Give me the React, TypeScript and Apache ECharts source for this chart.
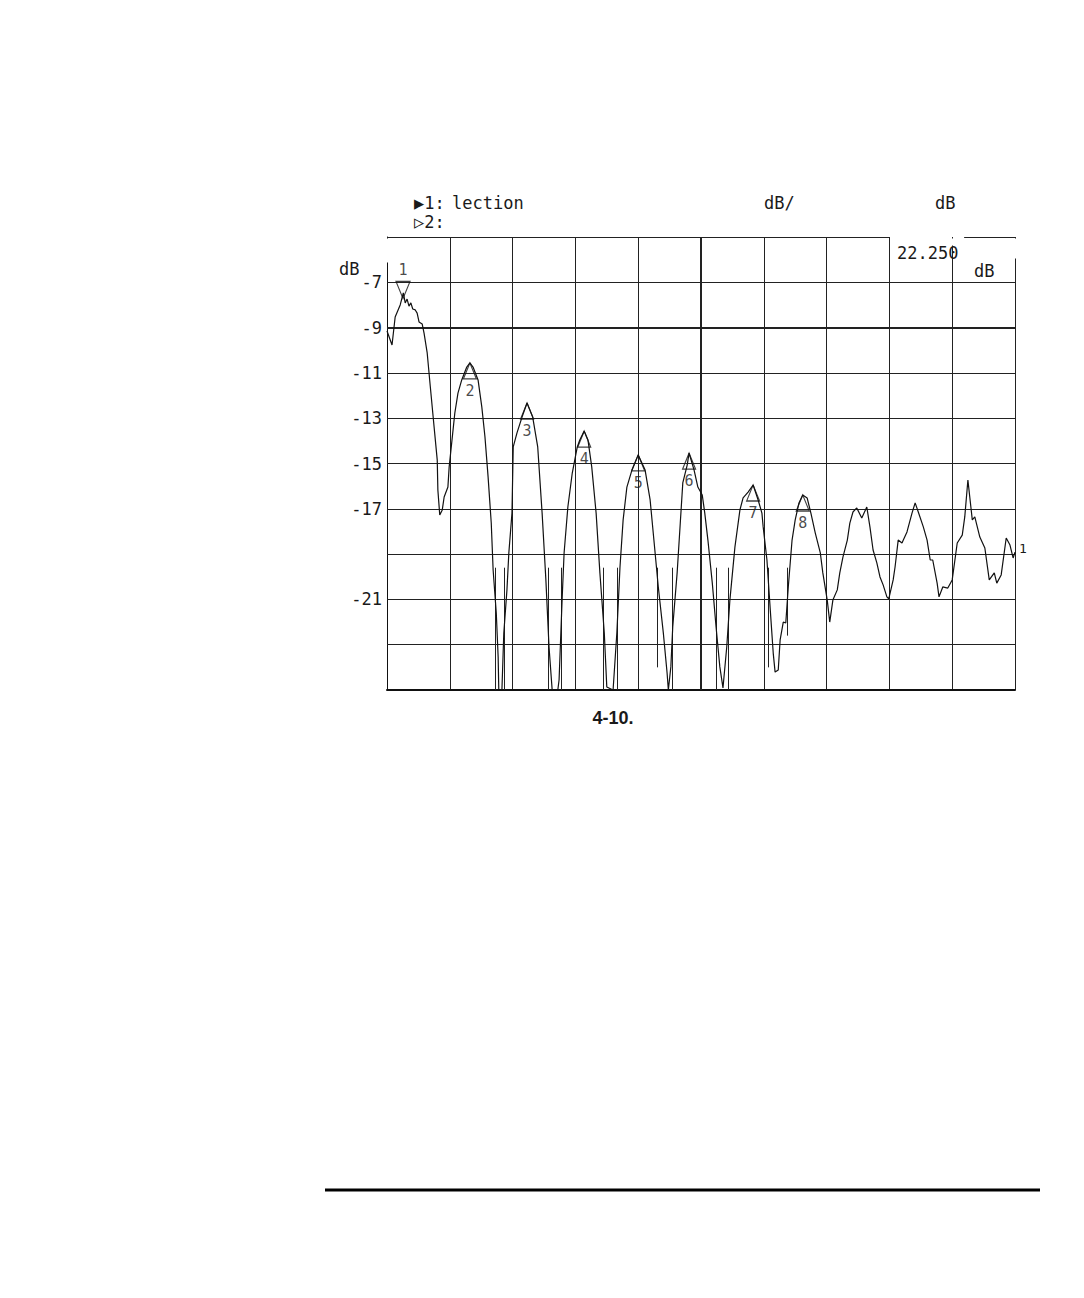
import React, { useEffect, useRef } from 'react';
import * as echarts from 'echarts';

// Trace: [x position (0..100 across the 10 divisions), dB]
const TRACE: [number, number][] = [
  [0, -9.15], [0.8, -9.77], [1.3, -8.53], [2.1, -8.0], [2.6, -7.47], [2.9, -7.91], [3.2, -7.74], [3.5, -8.05],
  [3.8, -7.91], [4.1, -8.18], [4.5, -8.22], [4.8, -8.36], [5.1, -8.75], [5.6, -8.84], [5.9, -9.24], [6.4, -10.12],
  [6.9, -11.62], [7.5, -13.39], [8.0, -14.85], [8.1, -16.17], [8.4, -17.27], [8.8, -17.05], [9.1, -16.48], [9.7, -16.04],
  [9.9, -15.15], [10.4, -13.83], [10.8, -12.77], [11.3, -11.89], [11.9, -11.31], [12.7, -10.74], [13.2, -10.56], [13.7, -10.74],
  [14.5, -11.31], [15.1, -12.51], [15.6, -13.83], [16.1, -15.6], [16.6, -17.63], [16.9, -19.7], [17.4, -21.6], [17.7, -23.54],
  [17.8, -25], [18.3, -25], [18.6, -22.48], [19.1, -20.58], [19.4, -18.95], [19.9, -17.19], [20.1, -14.27], [20.7, -13.65],
  [21.5, -12.95], [22.3, -12.33], [23.2, -12.95], [24.0, -14.27], [24.7, -17.19], [25.3, -20.14], [25.8, -23.1], [26.3, -25],
  [27.2, -25], [27.4, -24.56], [27.9, -20.89], [28.2, -18.95], [28.8, -16.92], [29.5, -15.42], [30.3, -14.27], [30.7, -13.96],
  [31.4, -13.57], [32.0, -13.96], [32.6, -15.15], [33.3, -17.19], [33.9, -19.83], [34.6, -22.48], [35.0, -24.87], [36.0, -25],
  [36.6, -22.48], [37.1, -19.57], [37.6, -17.49], [38.2, -16.04], [39.0, -15.29], [40.0, -14.62], [41.1, -15.29], [41.9, -16.61],
  [42.5, -18.38], [43.2, -20.45], [44.0, -22.48], [44.6, -24.25], [44.8, -25], [45.2, -23.98], [45.5, -22.22], [46.2, -19.83],
  [46.7, -17.63], [47.1, -15.86], [47.8, -15.07], [48.1, -14.54], [48.9, -15.29], [49.5, -16.04], [50.2, -16.39], [50.6, -17.19],
  [51.1, -18.38], [51.8, -20.28], [52.4, -22.22], [53.0, -23.98], [53.5, -24.91], [54.1, -23.1], [54.6, -21.03], [55.4, -18.69],
  [56.2, -17.05], [56.7, -16.52], [57.5, -16.26], [58.3, -15.95], [59.1, -16.61], [59.7, -17.19], [59.9, -17.8], [60.5, -19.26],
  [61.0, -21.34], [61.5, -23.37], [61.8, -24.21], [62.3, -24.12], [62.6, -22.79], [63.1, -22.0], [63.5, -22.04], [63.9, -20.45],
  [64.5, -18.38], [65.0, -17.49], [65.6, -16.74], [66.2, -16.39], [66.9, -16.52], [67.5, -17.19], [68.2, -18.07], [69.0, -18.95],
  [69.4, -19.83], [70.1, -21.03], [70.5, -22.0], [71.0, -21.03], [71.7, -20.58], [72.1, -19.83], [72.6, -19.13], [73.3, -18.38],
  [73.7, -17.63], [74.2, -17.14], [74.8, -16.96], [75.6, -17.41], [76.4, -16.92], [76.9, -17.8], [77.4, -18.82], [78.0, -19.39],
  [78.5, -20.01], [79.0, -20.36], [79.6, -20.89], [79.9, -20.98], [80.6, -20.14], [80.9, -19.57], [81.4, -18.38], [82.0, -18.51],
  [82.8, -18.02], [83.6, -17.19], [84.1, -16.74], [84.6, -17.14], [85.4, -17.8], [86.0, -18.38], [86.5, -19.26], [86.9, -19.26],
  [87.6, -20.28], [87.9, -20.89], [88.5, -20.45], [89.3, -20.5], [90.0, -20.14], [90.8, -18.51], [91.6, -18.16], [92.0, -17.36],
  [92.5, -15.73], [93.2, -17.49], [93.6, -17.36], [94.4, -18.25], [95.2, -18.73], [95.9, -20.14], [96.7, -19.83], [97.1, -20.28],
  [97.8, -19.92], [98.6, -18.29], [99.2, -18.6], [99.7, -19.17], [100, -18.91],
];

// Markers
const MARKER_NUM = ['1', '2', '3', '4', '5', '6', '7', '8'];
const MARKER_X = [2.55, 13.2, 22.3, 31.4, 40.0, 48.1, 58.3, 66.2];
const MARKER_DB = [-7.69, -10.56, -12.33, -13.57, -14.62, -14.54, -15.95, -16.39];

// Clipped vertical segments at the nulls
const SPIKE_X = [17.2, 18.6, 25.6, 27.7, 34.5, 36.6, 43.0, 45.5, 52.4, 54.3, 60.7, 63.7];
const SPIKE_TOP = [-19.6, -19.6, -19.6, -19.6, -19.6, -19.6, -19.6, -19.6, -19.6, -19.6, -19.6, -19.6];
const SPIKE_BOTTOM = [-25, -25, -25, -25, -25, -25, -24.0, -25, -25, -25, -24.0, -22.6];

// Axis
const Y_MIN = -25;
const Y_MAX = -5;
const Y_TICK_LABELS = ['-7', '-9', '-11', '-13', '-15', '-17', '-21'];
const GRID_DB = [-23, -21, -19, -17, -15, -13, -11, -9, -7];
const THICK_DB = [-9];

const MONO = '"DejaVu Sans Mono", "Liberation Mono", monospace';

export default function App() {
  const ref = useRef<HTMLDivElement>(null);

  useEffect(() => {
    if (!ref.current) return;
    const chart = echarts.init(ref.current, null, { renderer: 'svg' });

    const GL = 387, GT = 237, GW = 628, GH = 453;
    const gridLines: any[] = GRID_DB.map((v) => ({
      yAxis: v,
      lineStyle: { width: THICK_DB.includes(v) ? 2 : 1 },
    }));
    const topSegments: any[] = [
      [{ coord: [0, Y_MAX] }, { coord: [80, Y_MAX] }],
      [{ coord: [91.9, Y_MAX] }, { coord: [100, Y_MAX] }],
    ];
    const spikes: any[] = SPIKE_X.map((x, i) => [
      { coord: [x, SPIKE_TOP[i]] },
      { coord: [x, SPIKE_BOTTOM[i]] },
    ]);
    const centre: any[] = [{ xAxis: 50, lineStyle: { width: 2 } }];

    const txt = (text: string, x: number, y: number, size = 17, align = 'left', font = MONO, weight = 'normal') => ({
      type: 'text',
      x,
      y,
      z: 110,
      style: {
        text,
        font: `${weight} ${size}px ${font}`,
        fill: '#1a1a1a',
        align,
        verticalAlign: 'middle',
      },
    });
    const cover = (x: number, y: number, w: number, h: number) => ({
      type: 'rect',
      z: 100,
      shape: { x, y, width: w, height: h },
      style: { fill: '#ffffff' },
    });

    chart.setOption({
      animation: false,
      backgroundColor: '#ffffff',
      grid: { left: GL, top: GT, width: GW, height: GH, containLabel: false },
      xAxis: {
        type: 'value',
        min: 0,
        max: 100,
        interval: 10,
        axisLabel: { show: false },
        axisTick: { show: false },
        axisLine: { show: true, lineStyle: { color: '#111', width: 2 } },
        splitLine: { show: true, lineStyle: { color: '#222', width: 1 } },
      },
      yAxis: {
        type: 'value',
        min: Y_MIN,
        max: Y_MAX,
        interval: 1,
        axisTick: { show: false },
        axisLine: { show: true, lineStyle: { color: '#111', width: 1 } },
        splitLine: { show: false },
        axisLabel: {
          margin: 5,
          fontFamily: MONO,
          fontSize: 17,
          color: '#1a1a1a',
          formatter: (v: number) => (Y_TICK_LABELS.includes(String(v)) ? String(v) : ''),
        },
      },
      series: [
        {
          type: 'line',
          data: TRACE,
          symbol: 'none',
          lineStyle: { color: '#111', width: 1.2 },
          z: 5,
          markLine: {
            silent: true,
            symbol: ['none', 'none'],
            label: { show: false },
            lineStyle: { color: '#222', width: 1, type: 'solid' },
            emphasis: { disabled: true },
            data: [...gridLines, ...topSegments, ...spikes, ...centre],
          },
        },
        {
          type: 'scatter',
          data: MARKER_X.slice(1).map((x, i) => [x, MARKER_DB[i + 1]]),
          symbol: 'triangle',
          symbolSize: [13, 16],
          symbolOffset: [0, 8],
          itemStyle: { color: 'rgba(0,0,0,0)', borderColor: '#111', borderWidth: 1.2 },
          z: 6,
          silent: true,
        },
        {
          type: 'scatter',
          data: [[MARKER_X[0], MARKER_DB[0]]],
          symbol: 'path://M0,0L10,0L5,11Z',
          symbolSize: [14, 17],
          symbolOffset: [0, -8],
          itemStyle: { color: 'rgba(0,0,0,0)', borderColor: '#111', borderWidth: 1.2 },
          z: 6,
          silent: true,
        },
        {
          type: 'scatter',
          data: MARKER_X.map((x, i) => ({ value: [x, MARKER_DB[i]], name: MARKER_NUM[i] })),
          symbol: 'circle',
          symbolSize: 1,
          itemStyle: { color: 'rgba(0,0,0,0)' },
          z: 7,
          silent: true,
          label: {
            show: true,
            position: 'inside',
            formatter: (p: any) => p.name,
            fontFamily: MONO,
            fontSize: 15,
            color: '#1a1a1a',
          },
          labelLayout: (p: any) => ({ dy: p.dataIndex === 0 ? -28 : 28 }),
        },
      ],
      graphic: [
        cover(384, 238.5, 6, 24),
        cover(1012, 238.5, 6, 20),
        cover(949, 238.5, 6, 7),
        txt('▶1:', 414, 203),
        txt('lection', 452, 203),
        txt('dB/', 764, 203),
        txt('dB', 935, 203),
        txt('▷2:', 414, 222),
        txt('22.250', 897, 253),
        txt('dB', 974, 271),
        txt('dB', 339, 269),
        txt('1', 1019, 548, 13),
        txt('4-10.', 613, 718, 18, 'center', '"Liberation Sans Narrow", "Liberation Sans", Arial, sans-serif', 'bold'),
        {
          type: 'line',
          z: 110,
          shape: { x1: 325, y1: 1190, x2: 1040, y2: 1190 },
          style: { stroke: '#000', lineWidth: 3 },
        },
      ],
    });

    return () => chart.dispose();
  }, []);

  return (
    <div
      ref={ref}
      style={{ position: 'fixed', left: 0, top: 0, width: 1084, height: 1298, background: '#fff' }}
    />
  );
}
